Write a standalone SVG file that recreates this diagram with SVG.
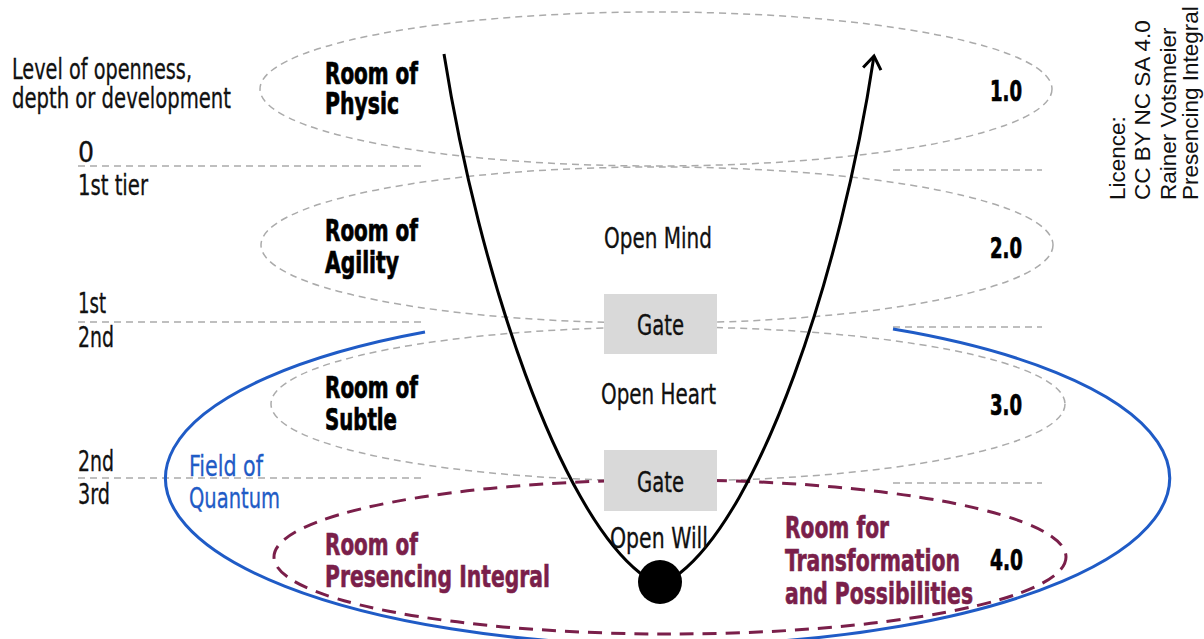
<svg xmlns="http://www.w3.org/2000/svg" width="1204" height="639" viewBox="0 0 1204 639">
  <style>
    .room { fill: none; stroke: #ababab; stroke-width: 1.5; stroke-dasharray: 7 5; }
    .tier { fill: none; stroke: #ababab; stroke-width: 1.5; stroke-dasharray: 7 5; }
    .core { fill: none; stroke: #7a1f4a; stroke-width: 3; stroke-dasharray: 14 9; }
    .field { fill: none; stroke: #1f5bc6; stroke-width: 3; }
    .path { fill: none; stroke: #000; stroke-width: 3; }
    .gate { fill: #d9d9d9; }
    text { font-family: "Liberation Sans Narrow", "DejaVu Sans Condensed", "Liberation Sans", sans-serif; }
    .lbl { font-size: 28px; fill: #111; stroke: #111; stroke-width: 0.3; }
    .bold { font-size: 30px; font-weight: bold; fill: #000; stroke: #000; stroke-width: 0.7; }
    .num { font-size: 29px; font-weight: bold; fill: #000; stroke: #000; stroke-width: 0.7; }
    .maroon { font-size: 30px; font-weight: bold; fill: #7a1f4a; stroke: #7a1f4a; stroke-width: 0.6; }
    .blue { font-size: 28px; fill: #1f5bc6; stroke: #1f5bc6; stroke-width: 0.3; }
    .lic { font-family: "Liberation Sans", Arial, sans-serif; font-size: 22.5px; fill: #111; }
  </style>
  <defs>
    <marker id="chevron" viewBox="0 0 22 22" refX="18" refY="11" markerWidth="22" markerHeight="22" markerUnits="userSpaceOnUse" orient="auto">
      <path d="M 5 2 L 18 11 L 5 20" fill="none" stroke="#000" stroke-width="3" stroke-linejoin="miter"/>
    </marker>
  </defs>

  <!-- rooms: dashed ellipses -->
  <g id="room-physic"><ellipse class="room" cx="656" cy="89" rx="396" ry="77"/></g>
  <g id="room-agility"><ellipse class="room" cx="657" cy="245" rx="396" ry="78"/></g>
  <g id="room-subtle"><ellipse class="room" cx="668" cy="404" rx="397" ry="77"/></g>
  <g id="room-presencing"><ellipse class="core" cx="670" cy="557" rx="396" ry="77"/></g>

  <!-- tier boundaries -->
  <g id="tier-lines">
    <line class="tier" x1="78" y1="166" x2="421" y2="166"/>
    <line class="tier" x1="893" y1="170" x2="1042" y2="170"/>
    <line class="tier" x1="78" y1="322" x2="421" y2="322"/>
    <line class="tier" x1="893" y1="327" x2="1042" y2="327"/>
    <line class="tier" x1="78" y1="478" x2="421" y2="478"/>
    <line class="tier" x1="893" y1="483" x2="1042" y2="483"/>
  </g>

  <!-- field of quantum -->
  <g id="field-quantum">
    <path class="field" d="M 425 332 A 502 167 0 1 0 893 329"/>
  </g>

  <!-- connectors: the U path -->
  <g id="connectors">
    <path class="path" marker-end="url(#chevron)" d="M 444 54 C 480 280 560 510 640 573 Q 660 590 680 573 C 760 510 840 280 874 56"/>
  </g>

  <!-- gates -->
  <g id="gate-1">
    <rect class="gate" x="604" y="294" width="113" height="60"/>
    <text class="lbl" x="660.5" y="335" text-anchor="middle" textLength="47" lengthAdjust="spacingAndGlyphs">Gate</text>
  </g>
  <g id="gate-2">
    <rect class="gate" x="604" y="450" width="113" height="61"/>
    <text class="lbl" x="660.5" y="492" text-anchor="middle" textLength="47" lengthAdjust="spacingAndGlyphs">Gate</text>
  </g>

  <!-- bottom point -->
  <g id="source-point"><circle cx="660" cy="582" r="22" fill="#000"/></g>

  <!-- axis labels -->
  <g id="axis-title">
    <text class="lbl" x="12" y="79" textLength="180" lengthAdjust="spacingAndGlyphs">Level of openness,</text>
    <text class="lbl" x="12" y="108" textLength="219" lengthAdjust="spacingAndGlyphs">depth or development</text>
  </g>
  <g id="axis-levels">
    <text class="lbl" x="78" y="162" font-size="27">0</text>
    <text class="lbl" x="78" y="195" textLength="70" lengthAdjust="spacingAndGlyphs">1st tier</text>
    <text class="lbl" x="78" y="313" textLength="28" lengthAdjust="spacingAndGlyphs">1st</text>
    <text class="lbl" x="78" y="347" textLength="36" lengthAdjust="spacingAndGlyphs">2nd</text>
    <text class="lbl" x="78" y="471" textLength="36" lengthAdjust="spacingAndGlyphs">2nd</text>
    <text class="lbl" x="78" y="504" textLength="32" lengthAdjust="spacingAndGlyphs">3rd</text>
  </g>

  <!-- room labels -->
  <g id="label-physic">
    <text class="bold" x="325" y="84" textLength="93" lengthAdjust="spacingAndGlyphs">Room of</text>
    <text class="bold" x="325" y="114" textLength="74" lengthAdjust="spacingAndGlyphs">Physic</text>
    <text class="num" x="990" y="101" textLength="32" lengthAdjust="spacingAndGlyphs">1.0</text>
  </g>
  <g id="label-agility">
    <text class="bold" x="325" y="241" textLength="93" lengthAdjust="spacingAndGlyphs">Room of</text>
    <text class="bold" x="325" y="273" textLength="74" lengthAdjust="spacingAndGlyphs">Agility</text>
    <text class="lbl" x="658" y="248" text-anchor="middle" textLength="108" lengthAdjust="spacingAndGlyphs">Open Mind</text>
    <text class="num" x="990" y="258" textLength="32" lengthAdjust="spacingAndGlyphs">2.0</text>
  </g>
  <g id="label-subtle">
    <text class="bold" x="325" y="398" textLength="93" lengthAdjust="spacingAndGlyphs">Room of</text>
    <text class="bold" x="325" y="430" textLength="72" lengthAdjust="spacingAndGlyphs">Subtle</text>
    <text class="lbl" x="658.5" y="404" text-anchor="middle" textLength="115" lengthAdjust="spacingAndGlyphs">Open Heart</text>
    <text class="num" x="990" y="415" textLength="32" lengthAdjust="spacingAndGlyphs">3.0</text>
  </g>
  <g id="label-field">
    <text class="blue" x="189" y="476" textLength="74" lengthAdjust="spacingAndGlyphs">Field of</text>
    <text class="blue" x="189" y="508" textLength="91" lengthAdjust="spacingAndGlyphs">Quantum</text>
  </g>
  <g id="label-presencing">
    <text class="maroon" x="325" y="555" textLength="93" lengthAdjust="spacingAndGlyphs">Room of</text>
    <text class="maroon" x="325" y="587" textLength="225" lengthAdjust="spacingAndGlyphs">Presencing Integral</text>
    <text class="lbl" x="659" y="548" text-anchor="middle" textLength="98" lengthAdjust="spacingAndGlyphs">Open Will</text>
    <text class="maroon" x="785" y="538" textLength="104" lengthAdjust="spacingAndGlyphs">Room for</text>
    <text class="maroon" x="785" y="571" textLength="175" lengthAdjust="spacingAndGlyphs">Transformation</text>
    <text class="maroon" x="785" y="604" textLength="188" lengthAdjust="spacingAndGlyphs">and Possibilities</text>
    <text class="num" x="990" y="570" textLength="33" lengthAdjust="spacingAndGlyphs">4.0</text>
  </g>

  <!-- licence -->
  <g id="licence">
    <text class="lic" transform="rotate(-90 1125 200)" x="1125" y="200">Licence:</text>
    <text class="lic" transform="rotate(-90 1150 200)" x="1150" y="200">CC BY NC SA 4.0</text>
    <text class="lic" transform="rotate(-90 1176 200)" x="1176" y="200">Rainer Votsmeier</text>
    <text class="lic" transform="rotate(-90 1198 200)" x="1198" y="200">Presencing Integral</text>
  </g>
</svg>
